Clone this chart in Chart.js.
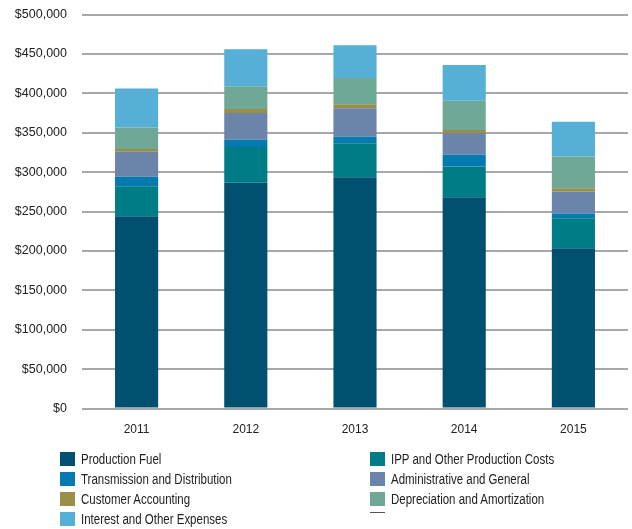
<!DOCTYPE html>
<html>
<head>
<meta charset="utf-8">
<script src="https://cdn.jsdelivr.net/npm/chart.js@4.4.0/dist/chart.umd.min.js"></script>
<style>
  body { margin: 0; background: #fff; }
  .wrap { position: relative; width: 632px; height: 529px; overflow: hidden; }
  #chart { position: absolute; left: 0; top: -8px; }
  #legend {
    position: absolute; left: 60px; top: 452px;
    display: grid; grid-template-columns: 310px 240px; row-gap: 6px;
    font-family: "Liberation Sans", Arial, sans-serif;
    font-size: 14px; color: #222;
  }
  .item { display: flex; align-items: center; height: 14px; white-space: nowrap; position: relative; }
  .sw { width: 15px; height: 14px; margin-right: 6px; flex: none; }
  .ln { width: 15px; height: 1px; flex: none; align-self: flex-start; margin-top: 0; }
  .tx { display: inline-block; transform: scaleX(0.82); transform-origin: left center; }
</style>
</head>
<body>
<div class="wrap">
  <canvas id="chart" width="632" height="463"></canvas>
  <div id="legend"></div>
</div>
<script>
const years = ["2011", "2012", "2013", "2014", "2015"];

const productionFuel = [244000, 287000, 293500, 268000, 203500];
const ippOther = [38000, 45000, 43000, 39000, 38000];
const transmission = [12000, 9000, 8500, 15000, 6000];
const adminGeneral = [32000, 34000, 36000, 27500, 28000];
const customerAccounting = [3500, 5000, 5000, 4000, 4000];
const depreciation = [27000, 29000, 33500, 37000, 40500];
const interestOther = [49500, 47000, 41500, 45500, 44000];
const otherLine = [0, 0, 0, 0, 0];

const yTicks = [0, 50000, 100000, 150000, 200000, 250000, 300000, 350000, 400000, 450000, 500000];

// legend order follows the picture, stacking goes bottom -> top in the same order
const series = [
  { label: "Production Fuel", data: productionFuel, color: "#01506f" },
  { label: "IPP and Other Production Costs", data: ippOther, color: "#007c86" },
  { label: "Transmission and Distribution", data: transmission, color: "#037ab0" },
  { label: "Administrative and General", data: adminGeneral, color: "#6a84aa" },
  { label: "Customer Accounting", data: customerAccounting, color: "#9a8f48" },
  { label: "Depreciation and Amortization", data: depreciation, color: "#70a898" },
  { label: "Interest and Other Expenses", data: interestOther, color: "#56afd6" },
  { label: "", data: otherLine, color: "#555" },
];

const ctx = document.getElementById("chart").getContext("2d");

const chart = new Chart(ctx, {
  type: "bar",
  data: {
    labels: years,
    datasets: series.map((s) => ({
      label: s.label,
      data: s.data,
      backgroundColor: s.color,
      borderWidth: 0,
      categoryPercentage: 1,
      barPercentage: 0.395,
    })),
  },
  options: {
    responsive: false,
    animation: false,
    layout: { padding: { top: 0, right: 4, bottom: 4, left: 0 } },
    plugins: {
      legend: { display: false },
      tooltip: { enabled: false },
    },
    scales: {
      x: {
        stacked: true,
        grid: { display: false, drawTicks: false },
        border: { display: false },
        ticks: {
          padding: 14,
          color: "#222",
          font: { family: "'Liberation Sans', Arial, sans-serif", size: 12 },
        },
      },
      y: {
        stacked: true,
        min: 0,
        max: 500000,
        z: 1, // grid lines sit over the bars
        afterBuildTicks: (s) => { s.ticks = yTicks.map((v) => ({ value: v })); },
        afterFit: (s) => { s.width = 82; },
        grid: { color: "#a8a8aa", lineWidth: 2, drawTicks: false },
        border: { display: false },
        ticks: {
          padding: 15,
          color: "#222",
          font: { family: "'Liberation Sans', Arial, sans-serif", size: 12.5 },
          callback: (v) => "$" + Number(v).toLocaleString("en-US"),
        },
      },
    },
  },
});

// html legend in two columns built from the chart datasets
const legend = document.getElementById("legend");
chart.data.datasets.forEach((ds) => {
  const item = document.createElement("div");
  item.className = "item";
  const mark = document.createElement("span");
  mark.className = ds.label ? "sw" : "ln";
  mark.style.background = ds.backgroundColor;
  item.appendChild(mark);
  const tx = document.createElement("span");
  tx.className = "tx";
  tx.textContent = ds.label;
  item.appendChild(tx);
  legend.appendChild(item);
});
</script>
</body>
</html>
